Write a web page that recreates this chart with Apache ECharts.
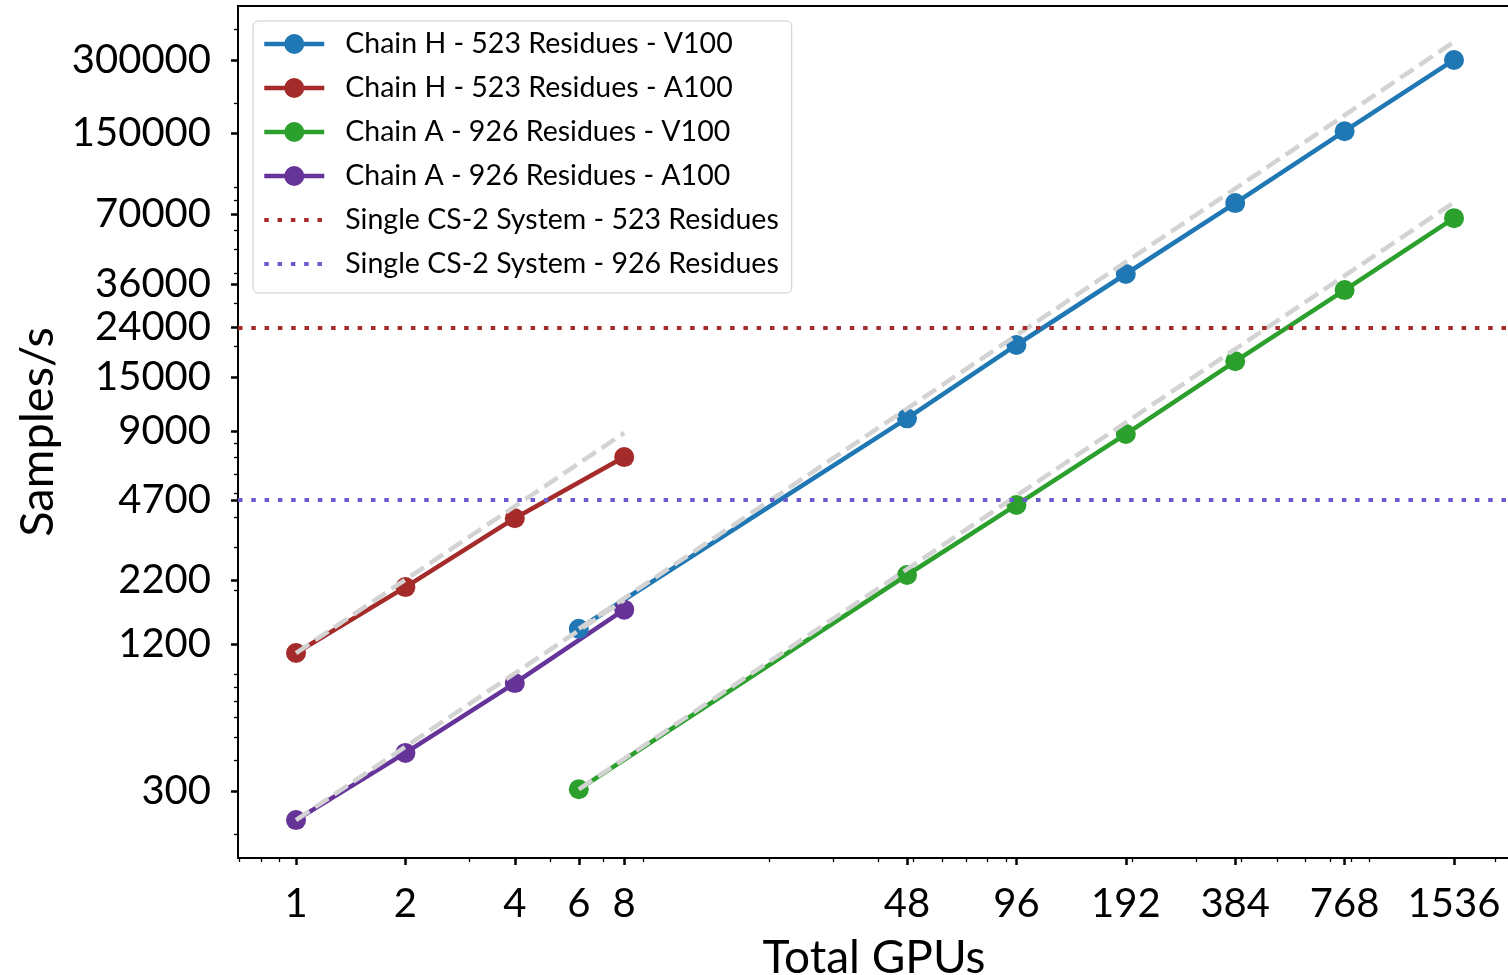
<!DOCTYPE html>
<html><head><meta charset="utf-8">
<script src="https://cdn.jsdelivr.net/npm/echarts@6/dist/echarts.min.js"></script>
<style>html,body{margin:0;padding:0;background:#fff;overflow:hidden}#c{width:1508px;height:975px}</style>
</head><body><div id="c"></div>
<script>
// ---- tick labels ----
const xTicks = [1, 2, 4, 6, 8, 48, 96, 192, 384, 768, 1536];
const yTicks = [300, 1200, 2200, 4700, 9000, 15000, 24000, 36000, 70000, 150000, 300000];

// ---- categories (GPU counts) ----
const gpusA100 = [1, 2, 4, 8];
const gpusV100 = [6, 48, 96, 192, 384, 768, 1536];

// ---- measured throughput (samples/s) ----
const chainH_V100 = [1390, 10150, 20300, 39700, 77600, 153000, 300000];
const chainH_A100 = [1105, 2060, 3950, 7040];
const chainA_V100 = [305, 2310, 4480, 8750, 17400, 34100, 67300];
const chainA_A100 = [228, 430, 832, 1665];

// ---- ideal linear-scaling references (endpoints) ----
const idealGpusA100 = [1, 8];
const idealGpusV100 = [6, 1536];
const idealH_A100 = [1105, 8840];
const idealA_A100 = [228, 1824];
const idealH_V100 = [1390, 355800];
const idealA_V100 = [305, 78100];

// ---- single CS-2 system levels ----
const cs2_523 = 24000;
const cs2_926 = 4700;

const names = [
  'Chain H - 523 Residues - V100',
  'Chain H - 523 Residues - A100',
  'Chain A - 926 Residues - V100',
  'Chain A - 926 Residues - A100',
  'Single CS-2 System - 523 Residues',
  'Single CS-2 System - 926 Residues'
];

const FONT = 'Lato';
const XMIN = 0.6924, XMAX = 2190, YMIN = 159.3, YMAX = 499600;
const L2 = Math.log2, L10 = Math.log10;

function minorTicks(lo, hi) {
  const out = [];
  for (let e = Math.floor(L10(lo)); e <= Math.ceil(L10(hi)); e++) {
    for (let m = 2; m <= 9; m++) {
      const v = m * Math.pow(10, e);
      if (v >= lo && v <= hi) out.push(v);
    }
  }
  return out;
}
const pairs = (xs, ys) => xs.map((x, i) => [x, ys[i]]);

const BLACK = '#000';
const DOT = [4.5, 8.8];
const DASH = [16, 7];
const LW = 4.5;

function dataSeries(name, xs, ys, color) {
  return {
    name, type: 'line', xAxisIndex: 0, yAxisIndex: 0,
    data: pairs(xs, ys), symbol: 'circle', symbolSize: 20,
    lineStyle: { width: LW, color }, itemStyle: { color }, z: 2, silent: true
  };
}
function idealSeries(name, xs, ys) {
  return {
    name, type: 'line', xAxisIndex: 0, yAxisIndex: 0,
    data: pairs(xs, ys), symbol: 'none',
    lineStyle: { width: 4.5, color: '#d3d3d3', type: DASH }, z: 3, silent: true
  };
}
function levelSeries(name, level, color) {
  return {
    name, type: 'line', xAxisIndex: 0, yAxisIndex: 0, data: [], symbol: 'none',
    lineStyle: { width: 4, color, type: DOT }, itemStyle: { color }, z: 4,
    markLine: {
      silent: true, symbol: ['none', 'none'], label: { show: false },
      lineStyle: { width: 4, color, type: DOT },
      emphasis: { disabled: true },
      data: [{ yAxis: level }]
    }
  };
}

const tickText = { fontSize: 40, fontFamily: FONT, color: BLACK };

const option = {
  animation: false,
  backgroundColor: '#fff',
  grid: {
    left: 238, width: 1272, top: 6, height: 852,
    show: true, borderColor: BLACK, borderWidth: 2,
    containLabel: false, outerBoundsMode: 'none'
  },
  xAxis: [
    { type: 'log', logBase: 2, min: XMIN, max: XMAX, show: false },
    {
      type: 'value', min: L2(XMIN), max: L2(XMAX), position: 'bottom',
      axisLine: { show: true, onZero: false, lineStyle: { color: BLACK, width: 2 } },
      axisTick: { show: true, customValues: xTicks.map(L2), length: 7, lineStyle: { width: 2.5, color: BLACK } },
      axisLabel: { show: true, customValues: xTicks.map(L2), formatter: v => String(Math.round(Math.pow(2, v))), margin: 26, ...tickText },
      splitLine: { show: false },
      name: 'Total GPUs', nameLocation: 'middle', nameGap: 77,
      nameTextStyle: { fontSize: 46, fontFamily: FONT, color: BLACK }
    },
    {
      type: 'value', min: L2(XMIN), max: L2(XMAX), position: 'bottom',
      axisLine: { show: false, onZero: false },
      axisTick: { show: true, customValues: minorTicks(XMIN, XMAX).map(L2), length: 4, lineStyle: { width: 1.3, color: BLACK } },
      axisLabel: { show: false }, splitLine: { show: false }
    }
  ],
  yAxis: [
    { type: 'log', logBase: 10, min: YMIN, max: YMAX, show: false },
    {
      type: 'value', min: L10(YMIN), max: L10(YMAX), position: 'left',
      axisLine: { show: true, onZero: false, lineStyle: { color: BLACK, width: 2 } },
      axisTick: { show: true, customValues: yTicks.map(L10), length: 7, lineStyle: { width: 2.5, color: BLACK } },
      axisLabel: { show: true, customValues: yTicks.map(L10), formatter: v => String(Math.round(Math.pow(10, v))), margin: 27, ...tickText },
      splitLine: { show: false },
      name: 'Samples/s', nameLocation: 'middle', nameGap: 174,
      nameTextStyle: { fontSize: 47, fontFamily: FONT, color: BLACK }
    },
    {
      type: 'value', min: L10(YMIN), max: L10(YMAX), position: 'left',
      axisLine: { show: false, onZero: false },
      axisTick: { show: true, customValues: minorTicks(YMIN, YMAX).map(L10), length: 4, lineStyle: { width: 1.3, color: BLACK } },
      axisLabel: { show: false }, splitLine: { show: false }
    }
  ],
  legend: {
    data: [
      names[0], names[1], names[2], names[3],
      { name: names[4], itemStyle: { opacity: 0, color: 'rgba(0,0,0,0)', borderWidth: 0 } },
      { name: names[5], itemStyle: { opacity: 0, color: 'rgba(0,0,0,0)', borderWidth: 0 } }
    ],
    orient: 'vertical', left: 253, top: 21,
    itemWidth: 60, itemHeight: 25, itemGap: 14,
    padding: [8, 13, 14, 9],
    lineStyle: { width: 'inherit' },
    backgroundColor: 'rgba(255,255,255,0.85)', borderColor: '#cccccc', borderWidth: 1, borderRadius: 5,
    textStyle: { fontSize: 28.5, fontFamily: FONT, color: BLACK, lineHeight: 30, padding: [0, 0, 0, 16] },
    selectedMode: false, z: 10
  },
  series: [
    dataSeries(names[0], gpusV100, chainH_V100, '#1f77b4'),
    dataSeries(names[1], gpusA100, chainH_A100, '#a52a2a'),
    dataSeries(names[2], gpusV100, chainA_V100, '#2ca02c'),
    dataSeries(names[3], gpusA100, chainA_A100, '#663399'),
    idealSeries('ideal H A100', idealGpusA100, idealH_A100),
    idealSeries('ideal A A100', idealGpusA100, idealA_A100),
    idealSeries('ideal H V100', idealGpusV100, idealH_V100),
    idealSeries('ideal A V100', idealGpusV100, idealA_V100),
    levelSeries(names[4], cs2_523, '#a52a2a'),
    levelSeries(names[5], cs2_926, '#6a5acd')
  ]
};

const chart = echarts.init(document.getElementById('c'), null, { renderer: 'canvas', width: 1508, height: 975 });
chart.setOption(option);
</script>
</body></html>
